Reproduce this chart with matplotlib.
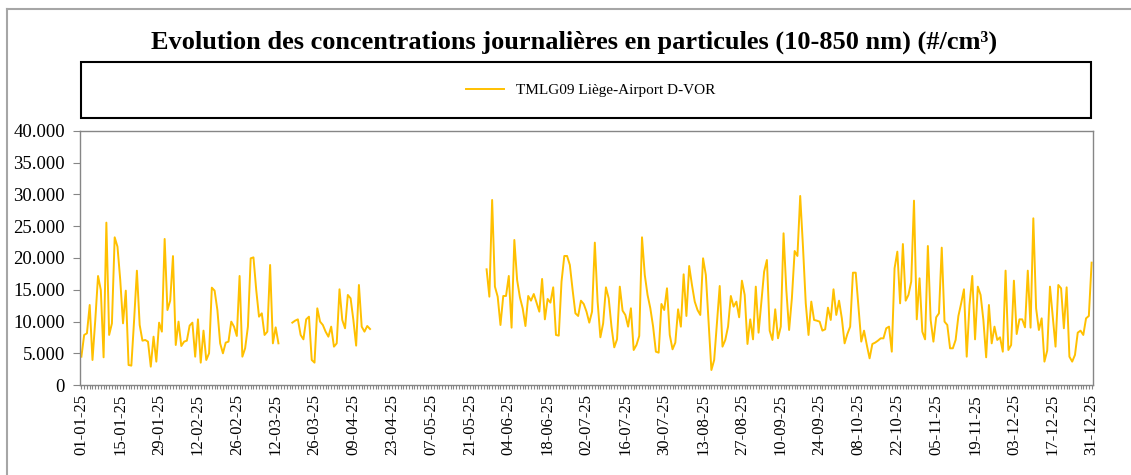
import numpy as np
import pandas as pd
import matplotlib
matplotlib.use('Agg')
import matplotlib.pyplot as plt
import matplotlib.dates as mdates
from matplotlib.patches import Rectangle
from matplotlib.lines import Line2D
from matplotlib.ticker import FuncFormatter, MultipleLocator

plt.rcParams['font.family'] = ['Liberation Serif', 'DejaVu Serif']

# concentrations journalières (#/cm³), par période de mesure
seg1_start = '2025-01-01'
seg1_values = [4460, 7880, 8140, 12600, 3940, 10200, 17170, 14960, 4360, 25570,
               7880, 9700, 23260, 21790, 16540, 9710, 14860, 3150, 3050, 10240,
               18000, 9450, 6980, 7090, 6830, 2890, 7610, 3680, 9820, 8400,
               23000, 11800, 13280, 20300, 6300, 9980, 6140, 6830, 6980, 9350,
               9820, 4460, 10340, 3520, 8560, 3940, 4990, 15330, 14860, 11810,
               6560, 4990, 6670, 6830, 9980, 9190, 7720, 17170, 4460, 5780,
               9190, 19950, 20100, 14960, 10760, 11290, 7880, 8400, 18900, 6560,
               9080, 6560]

seg2_start = '2025-03-18'
seg2_values = [9820, 10130, 10340, 7880, 7190, 10340, 10760, 3940, 3520, 12080,
               9980, 9450, 8400, 7610, 9190, 6040, 6560, 15070, 10240, 8930,
               14180, 13650, 10240, 6200, 15750, 9190, 8400, 9290, 8820]

seg3_start = '2025-05-27'
seg3_values = [18220, 13910, 29140, 15490, 13910, 9450, 14020, 14020, 17170, 9030,
               22840, 16540, 13810, 12080, 9290, 14020, 13280, 14330, 12970, 11550,
               16700, 10340, 13550, 12970, 15380, 7880, 7770, 16280, 20320, 20320,
               18900, 14960, 11290, 10870, 13280, 12760, 11550, 9820, 11550, 22420,
               13130, 7510, 9710, 15380, 13650, 9190, 5930, 7190, 15490, 11710,
               11030, 9190, 12080, 5510, 6300, 7720, 23260, 17330, 14180, 12080,
               9190, 5250, 5090, 12760, 11810, 15230, 7880, 5620, 6670, 11920,
               9190, 17430, 10870, 18740, 15750, 13130, 11810, 11030, 19950, 17330,
               9710, 2360, 3940, 9710, 15590, 6040, 7090, 9190, 14020, 12340,
               13130, 10660, 16430, 14180, 6460, 10340, 7190, 15490, 8240, 13130,
               17850, 19690, 8560, 7090, 11920, 7350, 9190, 23890, 14960, 8660,
               13650, 21100, 20320, 29770, 21790, 12860, 7880, 13130, 10240, 10130,
               9980, 8560, 8770, 12180, 10240, 15070, 11030, 13280, 10500, 6560,
               8030, 9190, 17690, 17690, 12340, 6830, 8560, 6300, 4200, 6460,
               6670, 6980, 7350, 7350, 8930, 9190, 5250, 18380, 21000, 12860,
               22200, 13280, 14180, 16280, 29030, 10340, 16800, 8400, 7190, 21890,
               10240, 6830, 10660, 11290, 21630, 9980, 9450, 5780, 5780, 7090,
               10870, 12860, 15070, 4460, 12600, 17170, 7190, 15490, 14180, 10240,
               4360, 12600, 6560, 9190, 7090, 7510, 5250, 18010, 5510, 6300,
               16430, 8030, 10340, 10340, 9080, 18010, 9030, 26250, 12080, 8660,
               10500, 3680, 5410, 15490, 10760, 6040, 15750, 15230, 8930, 15380,
               4460, 3680, 4730, 8240, 8560, 7880, 10500, 10870, 19270]

station = 'TMLG09 Liège-Airport D-VOR'
title = 'Evolution des concentrations journalières en particules (10-850 nm) (#/cm³)'

days = pd.date_range('2025-01-01', '2025-12-31', freq='D')
serie = pd.Series(np.nan, index=days)
for start, vals in [(seg1_start, seg1_values), (seg2_start, seg2_values), (seg3_start, seg3_values)]:
    idx = pd.date_range(start, periods=len(vals), freq='D')
    serie.loc[idx] = vals

W, H = 1131, 475
fig = plt.figure(figsize=(W / 100, H / 100), dpi=100)
fig.patch.set_facecolor('white')

# cadre du graphique (coupé à droite et en bas)
frame_col = '#a6a6a6'
fig.add_artist(Line2D([7 / W, 1], [1 - 9 / H, 1 - 9 / H], color=frame_col, lw=1.5))
fig.add_artist(Line2D([7 / W, 7 / W], [0, 1 - 9 / H], color=frame_col, lw=1.5))

fig.text(0.508, 0.912, title, ha='center', va='center', fontsize=19, fontweight='bold')

# boîte de légende
fig.add_artist(Rectangle((81 / W, 1 - 118 / H), 1010 / W, 56 / H, transform=fig.transFigure,
                         fill=False, edgecolor='black', lw=1.5))

ax = fig.add_axes([80 / W, 1 - 385 / H, 1013 / W, 254 / H])
line, = ax.plot(serie.index, serie.values, color='#FFC000', lw=1.4, label=station)

fig.legend(handles=[line], loc='center', bbox_to_anchor=(0.5225, 1 - 90 / H),
           frameon=False, fontsize=11, handlelength=2.5)

ax.set_ylim(0, 40000)
ax.yaxis.set_major_locator(MultipleLocator(5000))
ax.yaxis.set_major_formatter(FuncFormatter(lambda v, p: f'{int(v):,}'.replace(',', '.')))
ax.set_xlim(days[0] - pd.Timedelta(hours=12), days[-1] + pd.Timedelta(hours=12))

major = days[::14]
ax.set_xticks(major)
ax.set_xticks(days, minor=True)
ax.xaxis.set_major_formatter(mdates.DateFormatter('%d-%m-%y'))
plt.setp(ax.get_xticklabels(), rotation=90)

ax.tick_params(axis='y', labelsize=13.5, length=4.75, pad=6, direction='out', color='#868686')
ax.tick_params(axis='x', which='both', labelsize=12, length=3, direction='out',
               color='#868686', width=0.8)

for s in ax.spines.values():
    s.set_color('#868686')
    s.set_linewidth(1)

fig.savefig('out.png', dpi=100)
